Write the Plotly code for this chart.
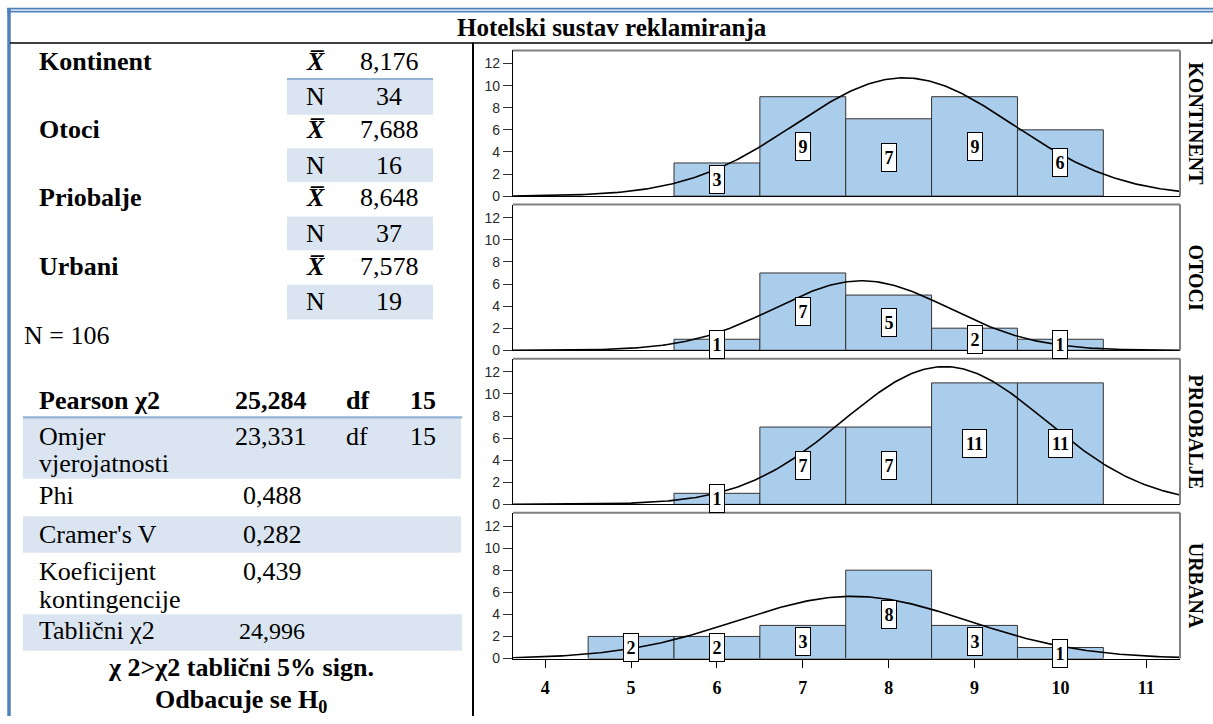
import numpy as np
import plotly.graph_objects as go

W, H = 1213, 724

# ---------------- data ----------------
bins = [5, 6, 7, 8, 9, 10]
panel_labels = ["KONTINENT", "OTOCI", "PRIOBALJE", "URBANA"]
kontinent = [0, 3, 9, 7, 9, 6]
otoci = [0, 1, 7, 5, 2, 1]
priobalje = [0, 1, 7, 7, 11, 11]
urbana = [2, 2, 3, 8, 3, 1]
x_ticks = [4, 5, 6, 7, 8, 9, 10, 11]
y_ticks = [0, 2, 4, 6, 8, 10, 12]

title = "Hotelski sustav reklamiranja"
group_names = ["Kontinent", "Otoci", "Priobalje", "Urbani"]
group_means = ["8,176", "7,688", "8,648", "7,578"]
group_n = ["34", "16", "37", "19"]
total_n = "N = 106"
pearson = ["Pearson χ2", "25,284", "df", "15"]
omjer = ["Omjer", "vjerojatnosti", "23,331", "df", "15"]
phi = ["Phi", "0,488"]
cramer = ["Cramer's V", "0,282"]
koef = ["Koeficijent", "kontingencije", "0,439"]
tablicni = ["Tablični χ2", "24,996"]
conclusion1 = "χ 2>χ2 tablični 5% sign."
conclusion2 = "Odbacuje se H<sub>0</sub>"

series = [kontinent, otoci, priobalje, urbana]

# ---------------- helpers ----------------
def px(x):
    return x / W

def py(y):
    return 1 - y / H

SERIF = "Liberation Serif"
BAR_FILL = "#ABCDEC"
SHADE = "#DBE5F1"
BLUE = "#4F81BD"

fig = go.Figure()

panel_px = [(51, 198.3), (206.9, 354.2), (362.7, 510.0), (518.6, 665.9)]
x_dom = [px(513), px(1180)]
x_range = [3.625, 11.393]
y_range = [0, 13.19]

layout = dict(
    width=W, height=H, margin=dict(l=0, r=0, t=0, b=0),
    paper_bgcolor="white", plot_bgcolor="white", showlegend=False,
    barmode="overlay",
)

annotations = []
shapes = []

xs = np.linspace(x_range[0], x_range[1], 300)
for i, counts in enumerate(series):
    k = i + 1
    sx = "" if k == 1 else str(k)
    xa, ya = "x" + sx, "y" + sx
    bx = [b for b, c in zip(bins, counts) if c > 0]
    by = [c for c in counts if c > 0]
    fig.add_trace(go.Bar(
        x=bx, y=by, width=1, xaxis=xa, yaxis=ya,
        marker=dict(color=BAR_FILL, line=dict(color="#333333", width=1)),
        hoverinfo="skip",
    ))
    # fitted normal curve derived from the counts (mean, sample SD)
    n = sum(counts)
    mean = sum(b * c for b, c in zip(bins, counts)) / n
    var = sum(c * (b - mean) ** 2 for b, c in zip(bins, counts)) / (n - 1)
    sd = np.sqrt(var)
    ys = n * 1.0 / (sd * np.sqrt(2 * np.pi)) * np.exp(-(xs - mean) ** 2 / (2 * var))
    fig.add_trace(go.Scatter(
        x=xs, y=ys, mode="lines", xaxis=xa, yaxis=ya,
        line=dict(color="black", width=1.6), hoverinfo="skip",
    ))
    top, bot = panel_px[i]
    dom = [py(bot), py(top)]
    layout["xaxis" + sx] = dict(
        domain=x_dom, range=x_range, anchor=ya, showgrid=False, zeroline=False,
        showline=True, linecolor="black", linewidth=1.2,
        tickvals=x_ticks, ticks="outside" if k == 4 else "", ticklen=8,
        tickcolor="black", showticklabels=(k == 4), ticklabelstandoff=5,
        tickfont=dict(family=SERIF, size=18, color="black"),
        ticktext=["<b>%d</b>" % t for t in x_ticks], fixedrange=True,
    )
    layout["yaxis" + sx] = dict(
        domain=dom, range=y_range, anchor=xa, showgrid=False, zeroline=False,
        showline=True, linecolor="black", linewidth=1.2,
        tickvals=y_ticks, ticks="outside", ticklen=9, tickcolor="#333",
        tickfont=dict(family="Liberation Sans", size=14, color="#2b2b2b"),
    )
    # gray frame top & right
    shapes.append(dict(type="line", xref=xa + " domain", yref=ya + " domain",
                       x0=0, x1=1, y0=1, y1=1, line=dict(color="#808080", width=2)))
    shapes.append(dict(type="line", xref=xa + " domain", yref=ya + " domain",
                       x0=1, x1=1, y0=0, y1=1, line=dict(color="#808080", width=2)))
    # count labels
    for b, c in zip(bx, by):
        annotations.append(dict(
            x=b, y=c / 2, xref=xa, yref=ya, text="<b>%d</b>" % c, showarrow=False,
            xanchor="center", yanchor="middle",
            font=dict(family=SERIF, size=18, color="black"),
            bgcolor="white", bordercolor="black", borderwidth=1, borderpad=1,
            width=12 if c < 10 else 21, height=25,
        ))
    # right side label
    annotations.append(dict(
        x=px(1196), y=py((top + bot) / 2), xref="paper", yref="paper",
        xanchor="center", yanchor="middle",
        text="<b>%s</b>" % panel_labels[i], textangle=90, showarrow=False,
        font=dict(family=SERIF, size=20, color="black"),
    ))

# ---------------- table frame lines ----------------
def hline(x0, x1, y, color, width):
    shapes.append(dict(type="line", xref="paper", yref="paper",
                       x0=px(x0), x1=px(x1), y0=py(y), y1=py(y),
                       line=dict(color=color, width=width)))

def vline(x, y0, y1, color, width):
    shapes.append(dict(type="line", xref="paper", yref="paper",
                       x0=px(x), x1=px(x), y0=py(y0), y1=py(y1),
                       line=dict(color=color, width=width)))

def rect(x0, x1, y0, y1, color):
    shapes.append(dict(type="rect", xref="paper", yref="paper", layer="below",
                       x0=px(x0), x1=px(x1), y0=py(y1), y1=py(y0),
                       fillcolor=color, line=dict(width=0)))

hline(7, 1213, 8.8, BLUE, 1.8)
hline(7, 1213, 11.8, BLUE, 1.8)
vline(9, 8, 724, BLUE, 3.5)
hline(10, 1212, 43.5, "black", 1.6)
vline(1212, 40, 44, "black", 1.2)
vline(473, 43, 724, "black", 2)

# shaded cells
for (y0, y1) in [(80, 116), (150, 184), (219, 253), (288, 323)]:
    rect(287, 433, y0, y1, SHADE)
hline(287, 433, 80, "#95B3D7", 2)
rect(23, 461, 422, 484, SHADE)
rect(23, 461, 522, 559, SHADE)
rect(23, 462, 621, 658, SHADE)
hline(23, 462, 422, "#95B3D7", 2.2)

def text(x, y, s, size=26, bold=False, anchor="left", italic=False):
    t = s
    if italic:
        t = "<i>" + t + "</i>"
    if bold:
        t = "<b>" + t + "</b>"
    annotations.append(dict(
        x=px(x), y=py(y), xref="paper", yref="paper", text=t, showarrow=False,
        xanchor=anchor, yanchor="middle",
        font=dict(family=SERIF, size=size, color="black"),
    ))

text(612, 28, title, size=25, bold=True, anchor="center")

name_y = [62, 131, 200, 269]
n_y = [98, 167, 236, 305]
for nm, mu, nn, y1, y2 in zip(group_names, group_means, group_n, name_y, n_y):
    text(37, y1, nm, bold=True)
    text(315, y1, "X\u0305", bold=True, italic=True, anchor="center")
    text(389, y1, mu, anchor="center")
    text(315, y2, "N", anchor="center")
    text(389, y2, nn, anchor="center")

text(22, 339, total_n)

text(37, 405, pearson[0], bold=True)
text(271, 405, pearson[1], bold=True, anchor="center")
text(357, 405, pearson[2], bold=True, anchor="center")
text(423, 405, pearson[3], bold=True, anchor="center")

text(37, 441, omjer[0])
text(37, 469, omjer[1])
text(271, 441, omjer[2], anchor="center")
text(357, 441, omjer[3], anchor="center")
text(423, 441, omjer[4], anchor="center")

text(37, 501, phi[0])
text(272, 501, phi[1], anchor="center")
text(37, 540, cramer[0])
text(272, 540, cramer[1], anchor="center")
text(37, 578, koef[0])
text(37, 606, koef[1])
text(272, 578, koef[2], anchor="center")
text(37, 638, tablicni[0])
text(272, 638, tablicni[1], size=24, anchor="center")

text(241, 675, conclusion1, bold=True, anchor="center")
text(241, 709, conclusion2, bold=True, anchor="center")

layout["annotations"] = annotations
layout["shapes"] = shapes
fig.update_layout(**layout)

fig.write_html(
    "out.html",
    config={"displayModeBar": False},
    post_script="document.body.style.margin='0';document.body.style.padding='0';"
                "document.body.style.overflow='hidden';",
)
